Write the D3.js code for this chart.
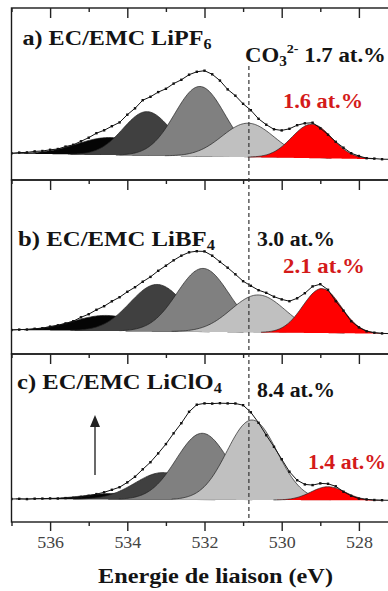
<!DOCTYPE html>
<html><head><meta charset="utf-8">
<script src="https://cdn.jsdelivr.net/npm/d3@7"></script>
<style>body{margin:0;background:#fff}svg{display:block}</style>
</head><body>
<svg id="chart" width="388" height="591"></svg>
<script>
// ---------- DATA ----------
const energies = [537.0,536.8,536.6,536.4,536.2,536.0,535.8,535.6,535.4,535.2,535.0,534.8,534.6,534.4,534.2,534.0,533.8,533.6,533.4,533.2,533.0,532.8,532.6,532.4,532.2,532.0,531.8,531.6,531.4,531.2,531.0,530.8,530.6,530.4,530.2,530.0,529.8,529.6,529.4,529.2,529.0,528.8,528.6,528.4,528.2,528.0,527.8,527.6,527.4,527.2,527.0];
const spectrum_a = [6.7,7.4,7.6,8.6,9.0,10.2,11.0,13.4,15.2,18.7,22.3,26.8,29.7,33.8,37.6,45.3,51.7,59.8,63.2,67.9,71.2,76.4,80.2,85.3,88.2,89.3,85.7,79.4,70.6,64.3,56.2,49.8,41.2,35.3,30.7,29.6,31.2,34.8,36.7,37.3,31.7,25.3,18.2,12.3,6.8,4.0,1.8,1.4,0.8,0.7,0.5];
const spectrum_b = [4.0,4.4,4.5,5.2,5.8,7.4,8.7,10.6,12.8,16.7,19.8,24.2,27.8,32.7,36.8,42.2,46.8,52.3,57.1,63.2,68.3,73.7,78.3,81.7,82.8,82.6,78.3,72.2,66.3,59.7,52.8,48.2,43.8,41.2,37.3,34.6,32.8,35.7,40.8,47.6,49.8,44.2,32.8,23.3,12.8,6.6,2.7,1.3,0.6,0.4,0.2];
const spectrum_c = [3.0,3.2,2.9,3.3,3.4,3.6,3.5,3.9,4.2,5.1,6.2,7.9,9.7,12.2,14.8,19.6,25.3,32.7,39.8,48.6,57.9,68.7,78.8,90.2,97.3,98.6,98.4,98.8,98.6,98.5,96.8,89.7,79.2,66.8,55.2,42.8,30.3,21.8,17.6,16.9,18.6,18.2,15.7,10.3,6.2,3.4,2.6,2.0,1.8,1.7,1.6];

// fitted components (binding energy, height, FWHM), high BE -> low BE
const centers_a = [534.45, 533.49, 532.12, 530.87, 529.22];
const heights_a = [17.5, 44, 70, 34, 34];
const fwhm_a    = [2.0, 1.46, 1.53, 1.59, 1.22];
const centers_b = [534.55, 533.23, 532.04, 530.61, 528.96];
const heights_b = [15.5, 47, 63.5, 37.5, 44.5];
const fwhm_b    = [2.0, 1.65, 1.59, 1.65, 1.16];
const centers_c = [534.3, 533.08, 532.06, 530.77, 528.8];
const heights_c = [6, 27, 66.5, 80, 13.5];
const fwhm_c    = [1.9, 1.71, 1.59, 1.53, 1.04];
// linear background at 537 eV and 527 eV
const background_a = [6.5, 0.5];
const background_b = [4.0, 0.2];
const background_c = [3.0, 1.5];

const panelTitles = ["a) EC/EMC LiPF", "b) EC/EMC LiBF", "c) EC/EMC LiClO"];
const panelSubs = ["6", "4", "4"];
const carbonatePct = ["1.7 at.%", "3.0 at.%", "8.4 at.%"];
const lowPeakPct = ["1.6 at.%", "2.1 at.%", "1.4 at.%"];
const majorTicks = [536, 534, 532, 530, 528];
const minorTicks = [537, 535, 533, 531, 529, 527];
const axisTitle = "Energie de liaison (eV)";
const carbonateEnergy = 530.85;

// ---------- LAYOUT ----------
const svg = d3.select("#chart");
const X0 = 11.5, X1 = 397.5;
const x = d3.scaleLinear().domain([537, 527]).range([X0, X1]);
const panelBox = [{top: 8, bottom: 180}, {top: 180, bottom: 354}, {top: 354, bottom: 522}];
const FONT = "'Liberation Serif','Times New Roman',serif";
const fills = ["#050505", "#404040", "#808080", "#c0c0c0", "#ff0000"];

const panels = [
  {spec: spectrum_a, c: centers_a, h: heights_a, w: fwhm_a, bg: background_a},
  {spec: spectrum_b, c: centers_b, h: heights_b, w: fwhm_b, bg: background_b},
  {spec: spectrum_c, c: centers_c, h: heights_c, w: fwhm_c, bg: background_c}
];

const defs = svg.append("defs");

function fitText(sel, x0, y0, targetW, sx) {
  const w = sel.node().getBBox().width;
  const s = targetW ? targetW / w : sx;
  sel.attr("transform", `translate(${x0},${y0}) scale(${s},1)`);
}

panels.forEach((p, i) => {
  const box = panelBox[i];
  const H = box.bottom - box.top;
  const y = d3.scaleLinear().domain([-20, H - 20]).range([box.bottom, box.top]);
  const bg = d3.scaleLinear().domain([537, 527]).range(p.bg);

  defs.append("clipPath").attr("id", "clip" + i)
    .append("rect").attr("x", X0).attr("y", box.top).attr("width", X1 - X0).attr("height", H);
  const g = svg.append("g").attr("clip-path", `url(#clip${i})`);

  // components
  p.c.forEach((c0, k) => {
    const sig = p.w[k] / 2.3548;
    const pts = d3.range(c0 + 3.2 * sig, c0 - 3.2 * sig, -0.04).map(e => ({
      e, gv: p.h[k] * Math.exp(-((e - c0) ** 2) / (2 * sig * sig))
    }));
    g.append("path").datum(pts)
      .attr("d", d3.area().x(d => x(d.e)).y0(d => y(bg(d.e))).y1(d => y(bg(d.e) + d.gv)).curve(d3.curveBasis))
      .attr("fill", fills[k]);
    g.append("path").datum(pts)
      .attr("d", d3.line().x(d => x(d.e)).y(d => y(bg(d.e) + d.gv)).curve(d3.curveBasis))
      .attr("fill", "none").attr("stroke", "#222").attr("stroke-width", 0.7);
  });

  // experimental envelope
  const data = energies.map((e, j) => ({e, v: p.spec[j]}));
  g.append("path").datum(data)
    .attr("d", d3.line().x(d => x(d.e)).y(d => y(d.v)))
    .attr("fill", "none").attr("stroke", "#111").attr("stroke-width", 1);
  g.selectAll(".mk").data(data).enter().append("rect")
    .attr("x", d => x(d.e) - 1.2).attr("y", d => y(d.v) - 1.2)
    .attr("width", 2.4).attr("height", 2.4).attr("fill", "#111");

  // frame
  svg.append("rect").attr("x", X0).attr("y", box.top).attr("width", X1 - X0).attr("height", H)
    .attr("fill", "none").attr("stroke", "#1a1a1a").attr("stroke-width", 1.4);

  // inward ticks on top edge
  const tg = svg.append("g").attr("transform", `translate(0,${box.top})`);
  tg.call(d3.axisBottom(x).tickValues(majorTicks).tickSize(10).tickFormat(""));
  const tg2 = svg.append("g").attr("transform", `translate(0,${box.top})`);
  tg2.call(d3.axisBottom(x).tickValues(minorTicks).tickSize(4).tickFormat(""));
  [tg, tg2].forEach(t => { t.select(".domain").remove(); t.selectAll("line").attr("stroke", "#222").attr("stroke-width", 1.4); });
});

// bottom axis
const bA = svg.append("g").attr("transform", `translate(0,${panelBox[2].bottom})`)
  .call(d3.axisBottom(x).tickValues(majorTicks).tickSize(9).tickPadding(6).tickFormat(d3.format("d")));
const bB = svg.append("g").attr("transform", `translate(0,${panelBox[2].bottom})`)
  .call(d3.axisBottom(x).tickValues(minorTicks).tickSize(4).tickFormat(""));
[bA, bB].forEach(t => { t.select(".domain").remove(); t.selectAll("line").attr("stroke", "#222").attr("stroke-width", 1.4); });
bA.selectAll("text").attr("font-family", FONT).attr("font-size", 16).attr("fill", "#444")
  .attr("transform", "scale(1.12,1)").attr("x", 0);

// carbonate dashed line
svg.append("line").attr("x1", x(carbonateEnergy)).attr("x2", x(carbonateEnergy))
  .attr("y1", 66).attr("y2", panelBox[2].bottom)
  .attr("stroke", "#333").attr("stroke-width", 1.2).attr("stroke-dasharray", "4,3");

// texts
const titlePos = [{x: 22.5, y: 45, w: 189}, {x: 18, y: 246, w: 197}, {x: 17, y: 389, w: 205}];
panelTitles.forEach((t, i) => {
  const tx = svg.append("text").attr("font-family", FONT).attr("font-weight", "bold")
    .attr("font-size", 21).attr("fill", "#141414");
  tx.append("tspan").text(t);
  tx.append("tspan").attr("font-size", 14).attr("dy", 4).text(panelSubs[i]);
  fitText(tx, titlePos[i].x, titlePos[i].y, titlePos[i].w);
});

// CO3 label in panel a
{
  const tx = svg.append("text").attr("font-family", FONT).attr("font-weight", "bold")
    .attr("font-size", 21).attr("fill", "#141414");
  tx.append("tspan").text("CO");
  tx.append("tspan").attr("font-size", 14).attr("dy", 4).text("3");
  tx.append("tspan").attr("font-size", 13).attr("dy", -13).text("2-");
  tx.append("tspan").attr("dy", 9).text(" " + carbonatePct[0]);
  fitText(tx, 245, 62, 141);
}
const pctPos = [null, {x: 257, y: 246, w: 78}, {x: 257, y: 397, w: 78}];
[1, 2].forEach(i => {
  const tx = svg.append("text").attr("font-family", FONT).attr("font-weight", "bold")
    .attr("font-size", 20).attr("fill", "#141414").text(carbonatePct[i]);
  fitText(tx, pctPos[i].x, pctPos[i].y, pctPos[i].w);
});
const redPos = [{x: 283, y: 108, w: 80}, {x: 283, y: 273, w: 82}, {x: 308, y: 469, w: 78}];
lowPeakPct.forEach((t, i) => {
  const tx = svg.append("text").attr("font-family", FONT).attr("font-weight", "bold")
    .attr("font-size", 20).attr("fill", "#d41a1a").text(t);
  fitText(tx, redPos[i].x, redPos[i].y, redPos[i].w);
});

// arrow in panel c
svg.append("line").attr("x1", 95).attr("x2", 95).attr("y1", 475).attr("y2", 425)
  .attr("stroke", "#444").attr("stroke-width", 1.6);
svg.append("path").attr("d", "M95,415 L90,427 L100,427 Z").attr("fill", "#222");

// axis title
{
  const tx = svg.append("text").attr("font-family", FONT).attr("font-weight", "bold")
    .attr("font-size", 20).attr("fill", "#141414").text(axisTitle);
  fitText(tx, 98, 583, 235);
}
</script>
</body></html>
